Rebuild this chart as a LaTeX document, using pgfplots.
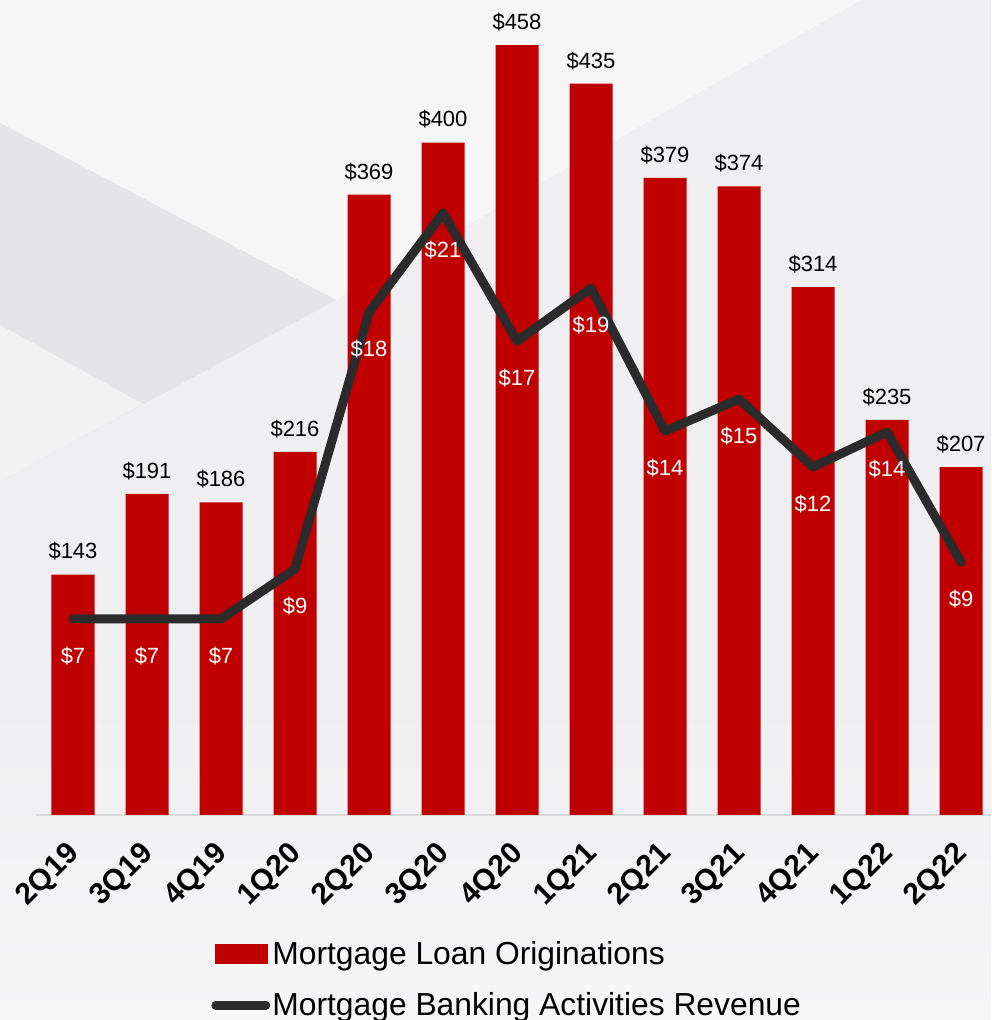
\documentclass[border=0pt]{standalone}
\usepackage{fontspec}
\setmainfont{Liberation Sans}
\usepackage{pgfplots}
\pgfplotsset{compat=1.18}
\definecolor{barred}{HTML}{C00000}
\definecolor{linegray}{HTML}{2B2B2B}
\definecolor{bgbase}{HTML}{EFEFF1}
\definecolor{bglight}{HTML}{F6F6F7}
\definecolor{bgtop}{HTML}{F6F6F7}
\definecolor{bgA}{HTML}{E4E4E6}
\definecolor{bgB}{HTML}{F1F1F2}

\pgfplotstableread{
x val
0 143
1 191
2 186
3 216
4 369
5 400
6 458
7 435
8 379
9 374
10 314
11 235
12 207
}\bars

\pgfplotstableread{
x val lab
0 6.84 7
1 6.84 7
2 6.84 7
3 8.58 9
4 17.54 18
5 21.0 21
6 16.53 17
7 18.38 19
8 13.39 14
9 14.51 15
10 12.14 12
11 13.36 14
12 8.82 9
}\revenue

\begin{document}
\begin{tikzpicture}[x=1pt,y=1pt]
% background
\fill[bgbase] (0,0) rectangle (991,1020);
\shade[top color=bgbase, bottom color=bglight] (0,0) rectangle (991,320);
\fill[bgtop] (0,1020) -- (861,1020) -- (336,720) -- (0,897) -- cycle;
\fill[bgA] (0,897) -- (336,720) -- (0,538) -- cycle;
\fill[bgB] (0,695) -- (143,616) -- (0,538) -- cycle;

\begin{axis}[
  at={(36pt,205pt)}, anchor=south west,
  scale only axis, width=954.6pt, height=815pt,
  xmin=-0.5, xmax=12.4, ymin=0, ymax=484.8,
  axis x line=bottom, axis y line=none,
  x axis line style={-, draw=black!15, line width=1.5pt},
  xtick={0,...,12},
  xticklabels={2Q19,3Q19,4Q19,1Q20,2Q20,3Q20,4Q20,1Q21,2Q21,3Q21,4Q21,1Q22,2Q22},
  major tick length=0pt,
  xticklabel style={xshift=-8pt, yshift=-25pt, rotate=45, anchor=north east, font=\bfseries\fontsize{30}{30}\selectfont, inner sep=0pt},
  ytick=\empty,
  clip=false,
]
\addplot[ybar, bar width=43pt, fill=barred, draw=none,
  nodes near coords={\$\pgfmathprintnumber[assume math mode=true]{\pgfplotspointmeta}},
  every node near coord/.append style={anchor=center, yshift=23pt, text=black, font=\fontsize{22}{22}\selectfont}
] table[x=x, y=val] {\bars};
\end{axis}

\begin{axis}[
  at={(36pt,205pt)}, anchor=south west,
  scale only axis, width=954.6pt, height=815pt,
  xmin=-0.5, xmax=12.4, ymin=0, ymax=28.43,
  hide axis, clip=false,
  legend style={at={(0.1835,-0.2015)}, anchor=west, draw=none, fill=none,
    font=\fontsize{31.8}{31.8}\selectfont, row sep=23pt, inner sep=0pt,
    nodes={inner sep=2pt}},
  legend cell align=left,
]
\addlegendimage{legend image code/.code={\fill[barred] (0pt,-10pt) rectangle (52pt,9pt);}}
\addlegendentry{Mortgage Loan Originations}
\addplot[linegray, line width=9pt, line cap=round, line join=round,
  nodes near coords, point meta=explicit symbolic,
  nodes near coords={\$\pgfplotspointmeta},
  every node near coord/.append style={anchor=center, yshift=-37pt, text=white, font=\fontsize{22}{22}\selectfont},
  legend image code/.code={\draw[linegray, line width=9pt, line cap=round] (1pt,0pt) -- (51pt,0pt);}
] table[x=x, y=val, meta=lab] {\revenue};
\addlegendentry{Mortgage Banking Activities Revenue}
\end{axis}

\pgfresetboundingbox
\useasboundingbox (0,0) rectangle (991,1020);
\end{tikzpicture}
\end{document}
